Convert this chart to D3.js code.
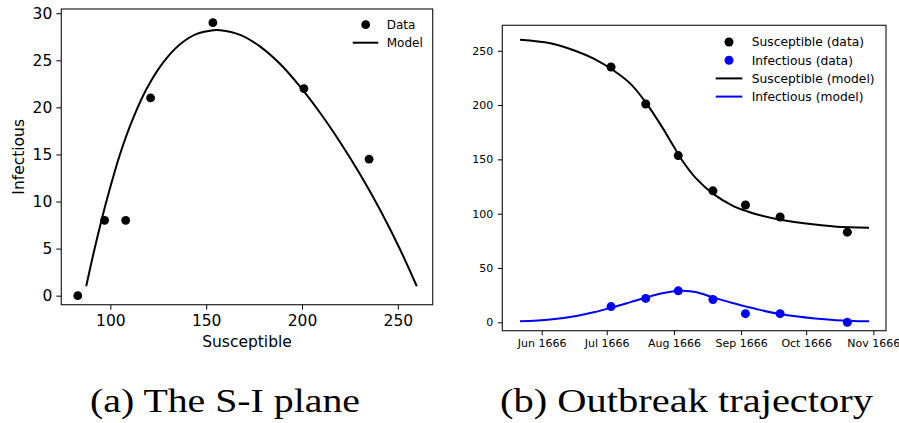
<!DOCTYPE html>
<html>
<head>
<meta charset="utf-8">
<script src="https://cdn.jsdelivr.net/npm/d3@7"></script>
<style>
  body { margin: 0; background: #fff; }
  svg { display: block; }
  text { font-family: "DejaVu Sans", sans-serif; fill: #000; }
</style>
</head>
<body>
<svg id="chart" width="899" height="423"></svg>
<script>
// ---------- data ----------
// Panel (a): S-I plane
const siDataS = [83, 97, 108, 121, 153.5, 201, 235];
const siDataI = [0, 8, 8, 21, 29, 22, 14.5];
const siModelS = [87.4, 91.1, 95.0, 99.8, 105.0, 112.0, 119.0, 127.7, 136.4, 145.1, 153.8, 157.3, 167.7, 178.2, 188.6, 199.0, 209.5, 219.9, 230.3, 240.8, 251.2, 259.9];
const siModelI = [1.0, 4.4, 7.7, 11.4, 15.0, 18.9, 22.0, 24.8, 26.7, 27.8, 28.2, 28.2, 27.7, 26.45, 24.6, 22.2, 19.4, 16.3, 12.9, 9.1, 4.9, 1.0];
const siXTicks = [100, 150, 200, 250];
const siYTicks = [0, 5, 10, 15, 20, 25, 30];

// Panel (b): outbreak trajectory
const obsDates = ["1666-07-03", "1666-07-19", "1666-08-03", "1666-08-19", "1666-09-03", "1666-09-19", "1666-10-20"];
const obsS = [235, 201, 153.5, 121, 108, 97, 83];
const obsI = [14.5, 22, 29, 21, 8, 8, 0];
const modelDates = ["1666-05-22", "1666-06-05", "1666-06-17", "1666-06-25", "1666-07-04", "1666-07-12", "1666-07-19", "1666-07-26", "1666-08-01", "1666-08-05", "1666-08-11", "1666-08-19", "1666-08-28", "1666-09-04", "1666-09-08", "1666-09-19", "1666-10-05", "1666-10-15", "1666-10-30"];
const modelS = [260.1, 256.8, 249.5, 242.7, 232.0, 219.5, 202.5, 181.5, 161.6, 148.5, 133.0, 118.5, 107.5, 102.0, 99.5, 94.5, 90.0, 88.0, 87.1];
const modelI = [0.9, 2.6, 5.9, 9.2, 14.0, 18.6, 22.7, 26.5, 28.6, 29.0, 27.9, 23.0, 17.8, 14.2, 12.2, 7.6, 3.5, 2.0, 0.9];
const monthTicks = ["1666-06-01", "1666-07-01", "1666-08-01", "1666-09-01", "1666-10-01", "1666-11-01"];
const trajYTicks = [0, 50, 100, 150, 200, 250];

const captions = ["(a) The S-I plane", "(b) Outbreak trajectory"];

// ---------- drawing ----------
const svg = d3.select("#chart");
const parse = d3.utcParse("%Y-%m-%d");

// ===== Panel (a) =====
const A = {left: 61.3, right: 432.7, top: 9, bottom: 304.7};
const xA = d3.scaleLinear().domain([74.4, 268.2]).range([A.left, A.right]);
const yA = d3.scaleLinear().domain([-0.96, 30.45]).range([A.bottom, A.top]);
const gA = svg.append("g");

gA.append("g").attr("transform", `translate(0,${A.bottom})`)
  .call(d3.axisBottom(xA).tickValues(siXTicks).tickSize(5).tickPadding(5.5))
  .call(g => g.select(".domain").remove())
  .call(g => g.selectAll("line").attr("stroke", "#000").attr("stroke-width", 1))
  .call(g => g.selectAll("text").style("font-size", "15.5px").style("font-family", "DejaVu Sans"));
gA.append("g").attr("transform", `translate(${A.left},0)`)
  .call(d3.axisLeft(yA).tickValues(siYTicks).tickSize(5).tickPadding(4))
  .call(g => g.select(".domain").remove())
  .call(g => g.selectAll("line").attr("stroke", "#000").attr("stroke-width", 1))
  .call(g => g.selectAll("text").style("font-size", "15.5px").style("font-family", "DejaVu Sans"));

gA.append("path")
  .datum(siModelS.map((s, i) => [s, siModelI[i]]))
  .attr("fill", "none").attr("stroke", "#000").attr("stroke-width", 2)
  .attr("d", d3.line().x(d => xA(d[0])).y(d => yA(d[1])).curve(d3.curveCatmullRom));
gA.selectAll("circle.pt").data(siDataS.map((s, i) => [s, siDataI[i]])).join("circle")
  .attr("class", "pt").attr("cx", d => xA(d[0])).attr("cy", d => yA(d[1])).attr("r", 4.4).attr("fill", "#000");

gA.append("rect").attr("x", A.left).attr("y", A.top).attr("width", A.right - A.left).attr("height", A.bottom - A.top)
  .attr("fill", "none").attr("stroke", "#222").attr("stroke-width", 1.2);

gA.append("text").attr("x", (A.left + A.right) / 2).attr("y", 347).attr("text-anchor", "middle")
  .style("font-size", "15.5px").text("Susceptible");
gA.append("text").attr("transform", `translate(24,${(A.top + A.bottom) / 2}) rotate(-90)`).attr("text-anchor", "middle")
  .style("font-size", "15.5px").text("Infectious");

// legend (a)
const legA = gA.append("g");
legA.append("circle").attr("cx", 365.7).attr("cy", 24.7).attr("r", 4.4).attr("fill", "#000");
legA.append("text").attr("x", 386.7).attr("y", 24.7).attr("dy", "0.35em").style("font-size", "12px").text("Data");
legA.append("line").attr("x1", 352.7).attr("x2", 378.3).attr("y1", 42.7).attr("y2", 42.7).attr("stroke", "#000").attr("stroke-width", 2);
legA.append("text").attr("x", 386.7).attr("y", 42.7).attr("dy", "0.35em").style("font-size", "12px").text("Model");

// ===== Panel (b) =====
const B = {left: 502.3, right: 886, top: 25.3, bottom: 330.7};
const xB = d3.scaleUtc().domain([Date.UTC(1666, 4, 13, 20), Date.UTC(1666, 10, 6, 20)]).range([B.left, B.right]);
const yB = d3.scaleLinear().domain([-7.7, 273.4]).range([B.bottom, B.top]);
const gB = svg.append("g");

gB.append("g").attr("transform", `translate(0,${B.bottom})`)
  .call(d3.axisBottom(xB).tickValues(monthTicks.map(parse)).tickFormat(d3.utcFormat("%b %Y")).tickSize(4.5).tickPadding(4.5))
  .call(g => g.select(".domain").remove())
  .call(g => g.selectAll("line").attr("stroke", "#000").attr("stroke-width", 1))
  .call(g => g.selectAll("text").style("font-size", "11px").style("font-family", "DejaVu Sans"));
gB.append("g").attr("transform", `translate(${B.left},0)`)
  .call(d3.axisLeft(yB).tickValues(trajYTicks).tickSize(4.5).tickPadding(4.5))
  .call(g => g.select(".domain").remove())
  .call(g => g.selectAll("line").attr("stroke", "#000").attr("stroke-width", 1))
  .call(g => g.selectAll("text").style("font-size", "11px").style("font-family", "DejaVu Sans"));

const lineB = d3.line().x(d => xB(d[0])).y(d => yB(d[1])).curve(d3.curveCatmullRom);
const md = modelDates.map(parse);
gB.append("path").datum(md.map((d, i) => [d, modelS[i]]))
  .attr("fill", "none").attr("stroke", "#000").attr("stroke-width", 2).attr("d", lineB);
gB.append("path").datum(md.map((d, i) => [d, modelI[i]]))
  .attr("fill", "none").attr("stroke", "#0000ff").attr("stroke-width", 2).attr("d", lineB);

const od = obsDates.map(parse);
gB.selectAll("circle.s").data(od.map((d, i) => [d, obsS[i]])).join("circle")
  .attr("class", "s").attr("cx", d => xB(d[0])).attr("cy", d => yB(d[1])).attr("r", 4.5).attr("fill", "#000");
gB.selectAll("circle.i").data(od.map((d, i) => [d, obsI[i]])).join("circle")
  .attr("class", "i").attr("cx", d => xB(d[0])).attr("cy", d => yB(d[1])).attr("r", 4.5).attr("fill", "#0000ff");

gB.append("rect").attr("x", B.left).attr("y", B.top).attr("width", B.right - B.left).attr("height", B.bottom - B.top)
  .attr("fill", "none").attr("stroke", "#222").attr("stroke-width", 1.2);

// legend (b)
const legItems = [
  {label: "Susceptible (data)", type: "dot", color: "#000"},
  {label: "Infectious (data)", type: "dot", color: "#0000ff"},
  {label: "Susceptible (model)", type: "line", color: "#000"},
  {label: "Infectious (model)", type: "line", color: "#0000ff"}
];
const legB = gB.append("g");
legItems.forEach((it, k) => {
  const y = 42 + k * 18.2;
  if (it.type === "dot") legB.append("circle").attr("cx", 729).attr("cy", y).attr("r", 4.5).attr("fill", it.color);
  else legB.append("line").attr("x1", 715.7).attr("x2", 742.3).attr("y1", y).attr("y2", y).attr("stroke", it.color).attr("stroke-width", 2);
  legB.append("text").attr("x", 751.7).attr("y", y).attr("dy", "0.35em").style("font-size", "12.3px").text(it.label);
});

// captions
const capPos = [{cx: 225, w: 270}, {cx: 686.5, w: 373}];
captions.forEach((c, k) => {
  svg.append("text").attr("x", capPos[k].cx - capPos[k].w / 2).attr("y", 412)
    .attr("textLength", capPos[k].w).attr("lengthAdjust", "spacingAndGlyphs")
    .style("font-family", "'Liberation Serif', serif").style("font-size", "34px").text(c);
});
</script>
</body>
</html>
